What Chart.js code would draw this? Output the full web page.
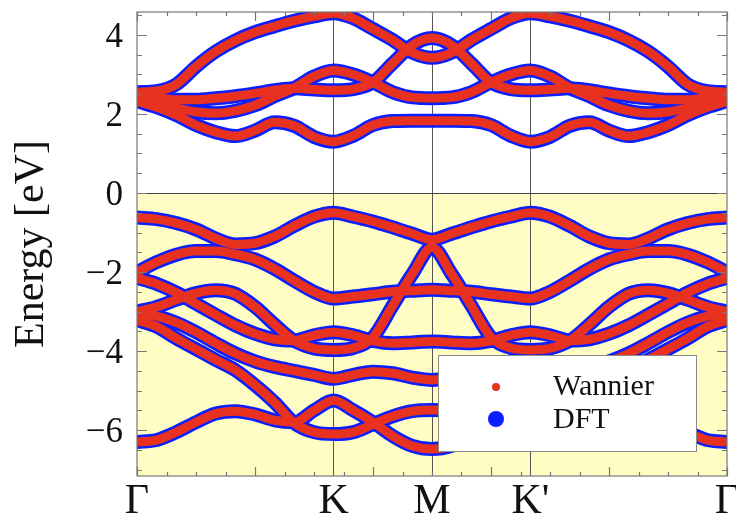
<!DOCTYPE html>
<html>
<head>
<meta charset="utf-8">
<script src="https://cdn.jsdelivr.net/npm/chart.js@4.4.1/dist/chart.umd.min.js"></script>
<style>
  html, body { margin: 0; padding: 0; background: #fff; }
  canvas { display: block; }
</style>
</head>
<body>
<canvas id="bands" width="736" height="520"></canvas>
<script>
// k-path distance, Gamma-K-M-K'-Gamma
const kpath = [0, 0.2, 0.4, 0.6, 0.8, 1, 1.2, 1.4, 1.6, 1.8, 2, 2.2, 2.4, 2.6, 2.8, 3,
  3.2, 3.4, 3.6, 3.8, 4, 4.2, 4.4, 4.6, 4.8, 5, 5.2, 5.4, 5.6, 5.8, 6];
const kTicks = [0, 2, 3, 4, 6];
const kNames = ['Γ', 'K', 'M', "K'", 'Γ'];

// conduction bands (eV)
const c1 = [2.32, 2.17, 1.97, 1.72, 1.54, 1.44, 1.58, 1.79, 1.7, 1.42, 1.3, 1.45, 1.72, 1.82, 1.83, 1.83,
  1.83, 1.82, 1.72, 1.45, 1.3, 1.42, 1.7, 1.79, 1.58, 1.44, 1.54, 1.72, 1.97, 2.17, 2.32];
const c2 = [2.38, 2.28, 2.15, 2.05, 2.02, 2.08, 2.22, 2.45, 2.66, 2.95, 3.1, 3.0, 2.8, 2.55, 2.42, 2.4,
  2.42, 2.55, 2.8, 3.0, 3.1, 2.95, 2.66, 2.45, 2.22, 2.08, 2.02, 2.05, 2.15, 2.28, 2.38];
const c3 = [2.5, 2.42, 2.36, 2.36, 2.4, 2.45, 2.52, 2.6, 2.65, 2.62, 2.6, 2.63, 2.8, 3.28, 3.74, 3.92,
  3.74, 3.28, 2.8, 2.63, 2.6, 2.62, 2.65, 2.6, 2.52, 2.45, 2.4, 2.36, 2.36, 2.42, 2.5];
const c4 = [2.55, 2.58, 2.75, 3.2, 3.58, 3.86, 4.07, 4.22, 4.36, 4.47, 4.55, 4.42, 4.15, 3.87, 3.55, 3.42,
  3.55, 3.87, 4.15, 4.42, 4.55, 4.47, 4.36, 4.22, 4.07, 3.86, 3.58, 3.2, 2.75, 2.58, 2.55];

// valence bands (eV)
const v1 = [-0.62, -0.66, -0.76, -0.92, -1.15, -1.3, -1.27, -1.1, -0.83, -0.6, -0.5, -0.6, -0.72, -0.87, -1.03, -1.18,
  -1.03, -0.87, -0.72, -0.6, -0.5, -0.6, -0.83, -1.1, -1.27, -1.3, -1.15, -0.92, -0.76, -0.66, -0.62];
const v2 = [-2.0, -1.75, -1.56, -1.47, -1.47, -1.55, -1.68, -1.92, -2.22, -2.5, -2.67, -2.62, -2.56, -2.5, -2.47, -2.45,
  -2.47, -2.5, -2.56, -2.62, -2.67, -2.5, -2.22, -1.92, -1.68, -1.55, -1.47, -1.47, -1.56, -1.75, -2.0];
const v3 = [-3.0, -2.88, -2.7, -2.53, -2.46, -2.55, -2.88, -3.33, -3.74, -3.93, -3.97, -3.92, -3.65, -2.85, -2.05, -1.38,
  -2.05, -2.85, -3.65, -3.92, -3.97, -3.93, -3.74, -3.33, -2.88, -2.55, -2.46, -2.53, -2.7, -2.88, -3.0];
const v4 = [-2.15, -2.3, -2.52, -2.8, -3.08, -3.35, -3.56, -3.7, -3.73, -3.6, -3.52, -3.6, -3.74, -3.8, -3.78, -3.76,
  -3.78, -3.8, -3.74, -3.6, -3.52, -3.6, -3.73, -3.7, -3.56, -3.35, -3.08, -2.8, -2.52, -2.3, -2.15];
const v5 = [-3.08, -3.12, -3.28, -3.52, -3.8, -4.06, -4.26, -4.4, -4.5, -4.6, -4.7, -4.6, -4.52, -4.56, -4.67, -4.73,
  -4.67, -4.56, -4.52, -4.6, -4.7, -4.6, -4.5, -4.4, -4.26, -4.06, -3.8, -3.52, -3.28, -3.12, -3.08];
const v6 = [-3.22, -3.38, -3.68, -3.95, -4.22, -4.48, -4.86, -5.3, -5.82, -6.05, -6.1, -6.05, -5.85, -5.65, -5.52, -5.49,
  -5.52, -5.65, -5.85, -6.05, -6.1, -6.05, -5.82, -5.3, -4.86, -4.48, -4.22, -3.95, -3.68, -3.38, -3.22];
const v7 = [-6.3, -6.25, -6.05, -5.8, -5.58, -5.52, -5.6, -5.75, -5.8, -5.5, -5.25, -5.5, -5.8, -6.15, -6.4, -6.48,
  -6.4, -6.15, -5.8, -5.5, -5.25, -5.5, -5.8, -5.75, -5.6, -5.52, -5.58, -5.8, -6.05, -6.25, -6.3];

const bands = [c1, c2, c3, c4, v1, v2, v3, v4, v5, v6, v7];

const serif = '"Liberation Serif", "DejaVu Serif", serif';
const RED = '#e8321f';
const BLUE = '#0a1eff';

const datasets = [];
bands.forEach(b => datasets.push({
  label: 'DFT', data: b, borderColor: BLUE, borderWidth: 14, order: 2
}));
bands.forEach(b => datasets.push({
  label: 'Wannier', data: b, borderColor: RED, borderWidth: 9, order: 1
}));

const decor = {
  id: 'decor',
  beforeDraw(chart) {
    const {ctx, chartArea: a, scales: {y}} = chart;
    const y0 = y.getPixelForValue(0);
    ctx.save();
    ctx.fillStyle = '#fffcc4';
    ctx.fillRect(a.left, y0, a.right - a.left, a.bottom - y0);
    ctx.restore();
  },
  afterDatasetsDraw(chart) {
    const {ctx, chartArea: a, scales: {x, y}} = chart;
    ctx.save();
    ctx.strokeStyle = '#777';
    ctx.lineWidth = 1.2;
    // inward ticks, left and right
    for (let v = -7; v <= 4.5; v += 0.5) {
      const py = Math.round(y.getPixelForValue(v)) + 0.5;
      const len = v % 2 === 0 ? 10 : 5;
      ctx.beginPath();
      ctx.moveTo(a.left, py); ctx.lineTo(a.left + len, py);
      ctx.moveTo(a.right, py); ctx.lineTo(a.right - len, py);
      ctx.stroke();
    }
    // inward ticks, top and bottom
    for (let i = 0; i <= 20; i++) {
      const px = Math.round(x.getPixelForValue(i * 0.3)) + 0.5;
      const len = i % 4 === 0 ? 9 : 4;
      ctx.beginPath();
      ctx.moveTo(px, a.bottom); ctx.lineTo(px, a.bottom - len);
      ctx.moveTo(px, a.top); ctx.lineTo(px, a.top + len);
      ctx.stroke();
    }
    ctx.strokeRect(a.left, a.top, a.right - a.left, a.bottom - a.top);

    // legend box
    const lx = 438, ly = 355, lw = 258, lh = 96;
    ctx.fillStyle = '#fff';
    ctx.fillRect(lx, ly, lw, lh);
    ctx.strokeStyle = '#8a8a8a';
    ctx.lineWidth = 1;
    ctx.strokeRect(lx + 0.5, ly + 0.5, lw, lh);
    ctx.fillStyle = RED;
    ctx.beginPath(); ctx.arc(lx + 58, ly + 32, 4, 0, Math.PI * 2); ctx.fill();
    ctx.fillStyle = BLUE;
    ctx.beginPath(); ctx.arc(lx + 58, ly + 64, 8, 0, Math.PI * 2); ctx.fill();
    ctx.fillStyle = '#111';
    ctx.font = '30px ' + serif;
    ctx.textBaseline = 'alphabetic';
    ctx.fillText('Wannier', lx + 115, ly + 40);
    ctx.fillText('DFT', lx + 115, ly + 73);
    ctx.restore();
  }
};

new Chart('bands', {
  type: 'line',
  data: { labels: kpath, datasets: datasets },
  plugins: [decor],
  options: {
    responsive: false,
    animation: false,
    devicePixelRatio: 1,
    events: [],
    layout: { padding: { left: 0, right: 9, top: 12, bottom: 0 } },
    elements: {
      point: { radius: 0 },
      line: { cubicInterpolationMode: 'monotone', borderCapStyle: 'round', borderJoinStyle: 'round' }
    },
    plugins: { legend: { display: false }, tooltip: { enabled: false } },
    scales: {
      x: {
        type: 'linear', min: 0, max: 6,
        afterBuildTicks: s => { s.ticks = kTicks.map(v => ({ value: v })); },
        afterFit: s => { s.height = 44; s.paddingLeft = 0; s.paddingRight = 0; },
        ticks: {
          autoSkip: false, maxRotation: 0, padding: 1, color: '#111',
          font: { family: serif, size: 42 },
          callback: v => kNames[kTicks.indexOf(v)]
        },
        grid: {
          drawTicks: false,
          color: c => (c.tick && c.tick.value > 0 && c.tick.value < 6) ? '#555' : 'rgba(0,0,0,0)'
        },
        border: { display: false }
      },
      y: {
        min: -7.16, max: 4.58,
        afterBuildTicks: s => {
          const t = [];
          for (let v = -7; v <= 4.5; v += 0.5) t.push({ value: v });
          s.ticks = t;
        },
        afterFit: s => { s.width = 137; s.paddingTop = 0; s.paddingBottom = 0; },
        ticks: {
          autoSkip: false, padding: 14, labelOffset: 3, color: '#111',
          font: { family: serif, size: 35 },
          callback: v => v % 2 === 0 ? (v < 0 ? '\u2212' + Math.abs(v) : String(v)) : ''
        },
        grid: {
          drawTicks: false,
          color: c => (c.tick && c.tick.value === 0) ? '#444' : 'rgba(0,0,0,0)'
        },
        border: { display: false },
        title: {
          display: true, text: 'Energy [eV]', color: '#111',
          font: { family: serif, size: 42 }, padding: { top: 7, bottom: 0 }
        }
      }
    }
  }
});
</script>
</body>
</html>
